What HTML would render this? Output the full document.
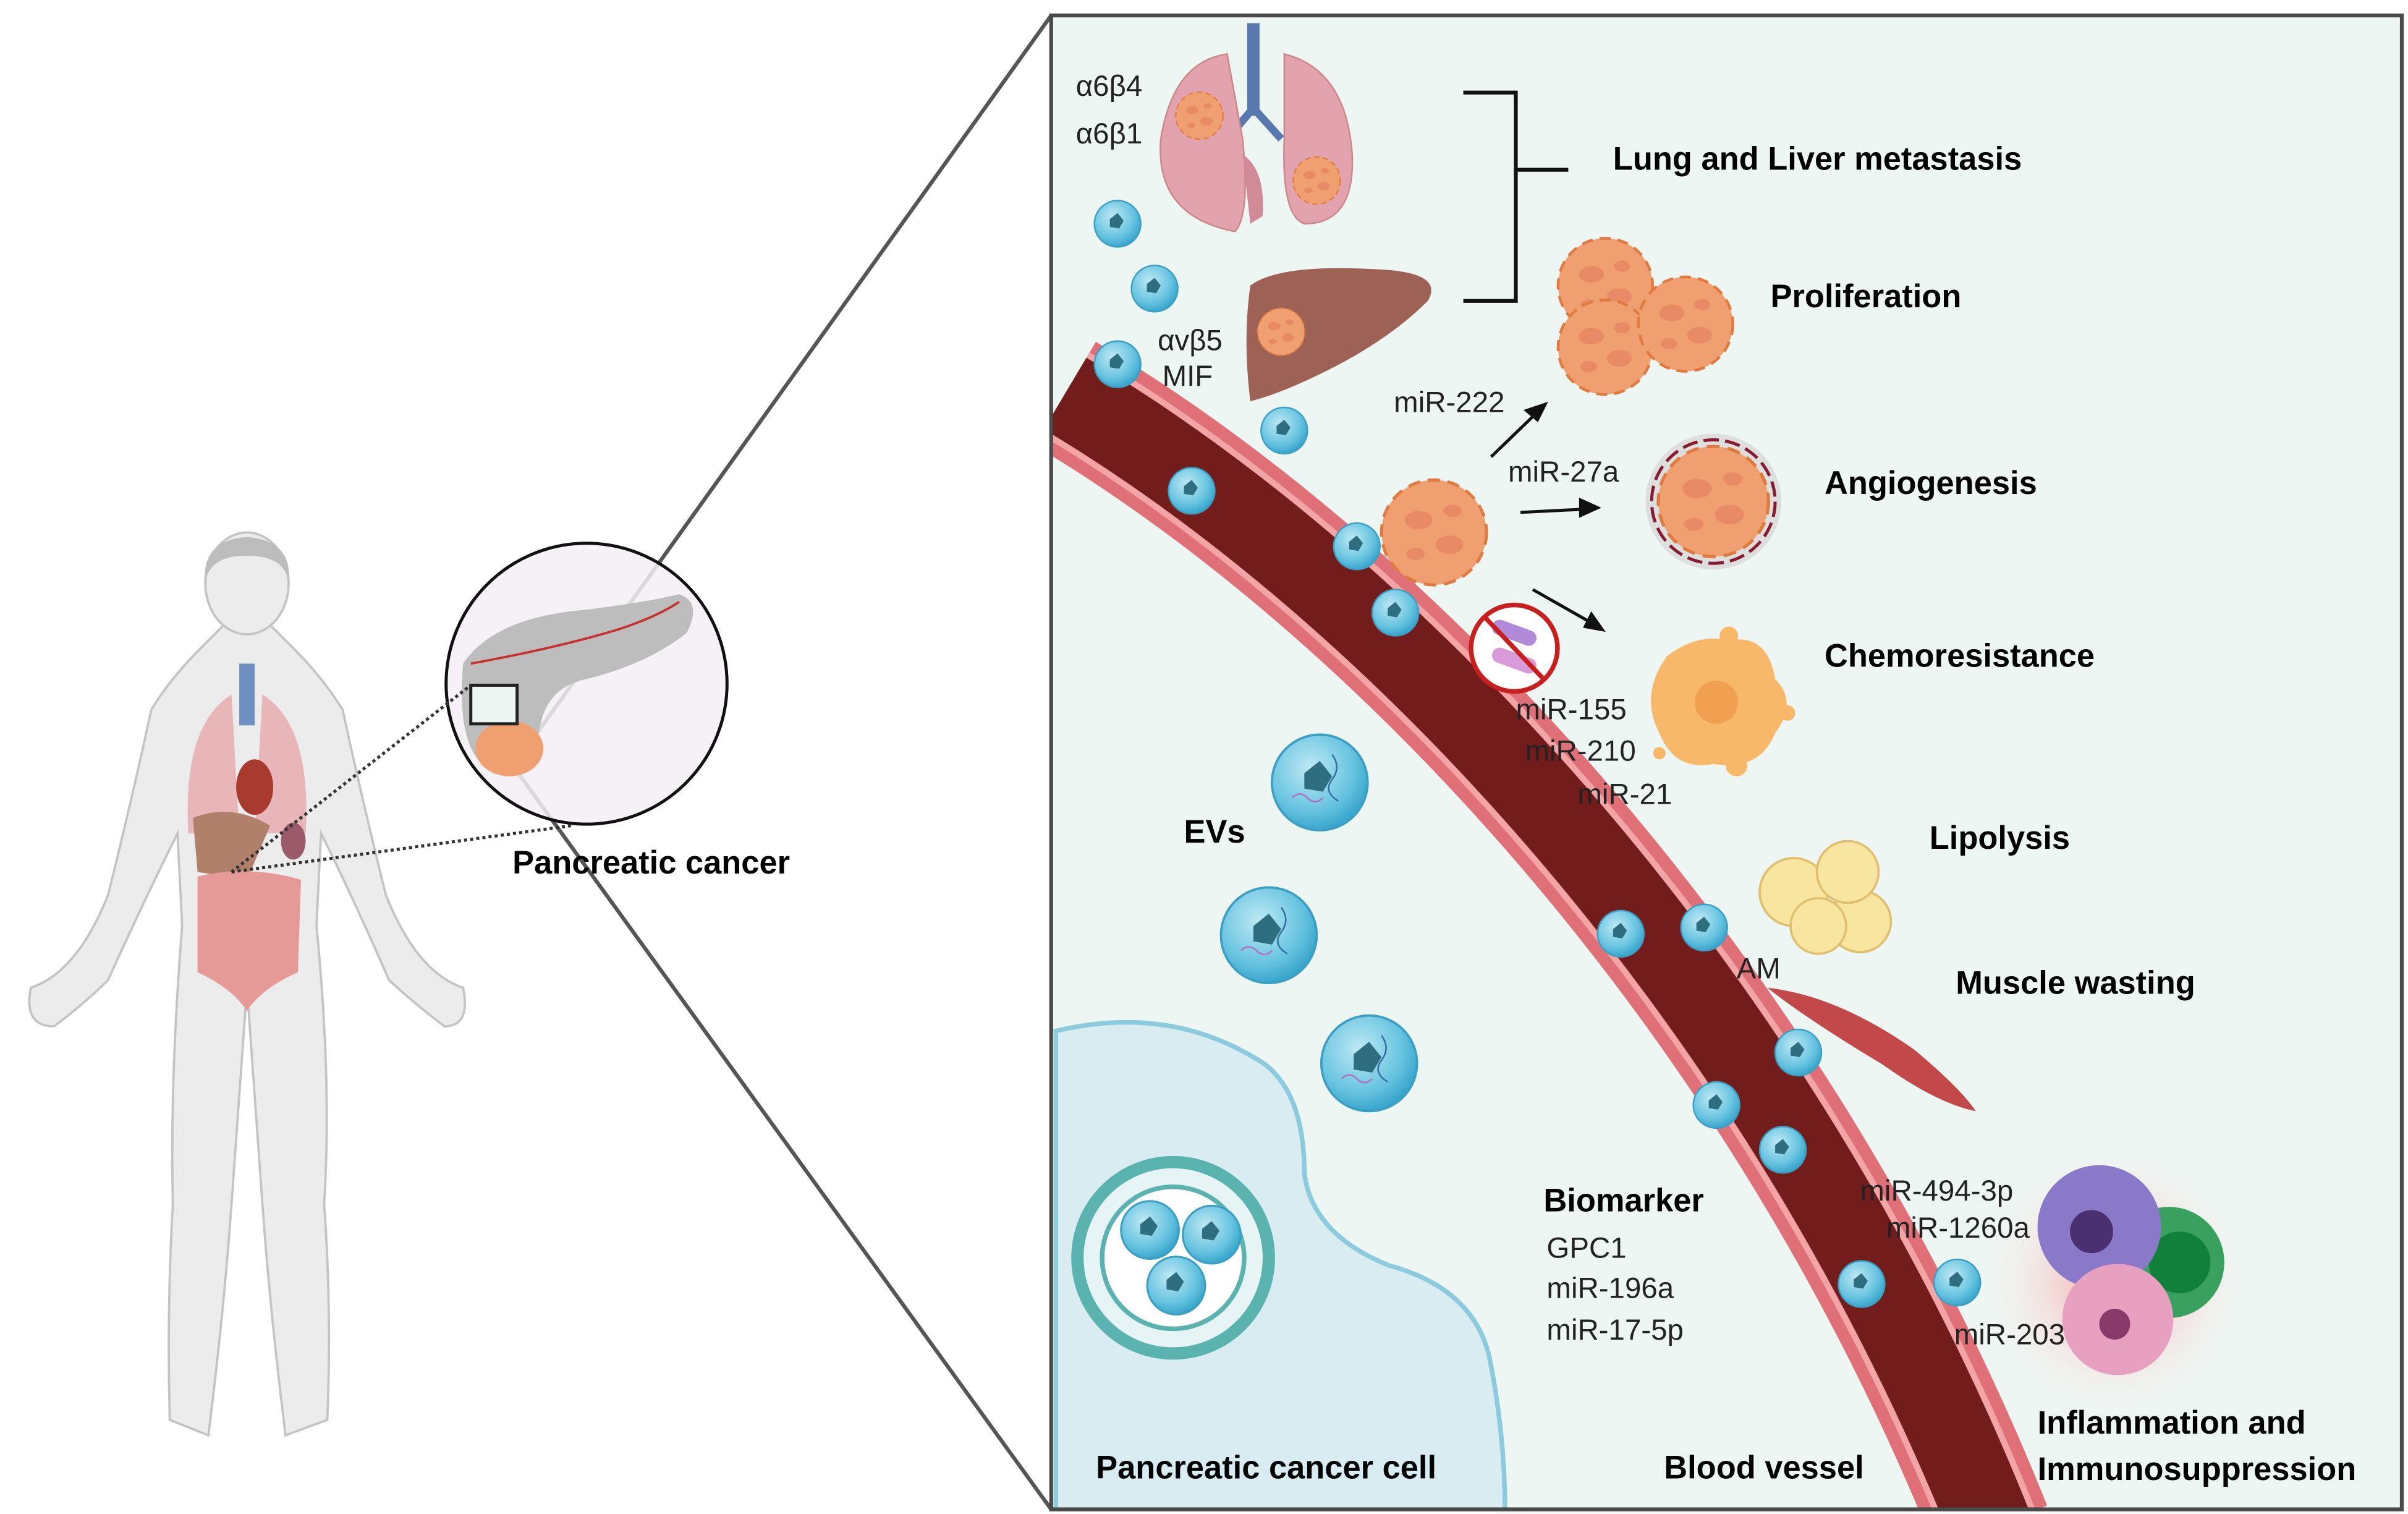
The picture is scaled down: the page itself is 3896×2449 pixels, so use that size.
<!DOCTYPE html>
<html><head><meta charset="utf-8"><style>
html,body{margin:0;padding:0;background:#fff;}
svg{display:block;}
text{font-family:"Liberation Sans",sans-serif;}
.b{font-weight:bold;font-size:21px;fill:#000;}
.n{font-size:19px;fill:#222;}
</style></head><body>
<svg width="3896" height="2449" viewBox="0 0 1560 981" preserveAspectRatio="none" xmlns="http://www.w3.org/2000/svg">
<defs>
<clipPath id="pc"><rect x="681" y="10" width="875" height="968"/></clipPath>
<radialGradient id="ev" cx="40%" cy="35%" r="65%"><stop offset="0" stop-color="#bfe9f5"/><stop offset="0.7" stop-color="#66c3e0"/><stop offset="1" stop-color="#3aa6cc"/></radialGradient>
<radialGradient id="glow" cx="50%" cy="50%" r="50%"><stop offset="0" stop-color="#f4a0a0"/><stop offset="1" stop-color="#fbeaea" stop-opacity="0"/></radialGradient>
<g id="e"><circle r="15" fill="url(#ev)" stroke="#3b9fc4" stroke-width="1"/><path d="M-5 -3 l5 -4 l4 5 l-3 5 l-6 -1z" fill="#2f6e80"/></g>
<g id="E"><circle r="31" fill="url(#ev)" stroke="#3b9fc4" stroke-width="1.5"/><path d="M-10 -6 l10 -8 l8 10 l-6 10 l-12 -2z" fill="#2f6e80"/><path d="M-18 10 q5 -5 10 0 t10 0" stroke="#b070c0" fill="none"/><path d="M8 -18 q6 8 0 16 t4 14" stroke="#3070a0" fill="none"/></g>
<g id="t"><circle r="34" fill="#f0a070"/><circle r="34" fill="none" stroke="#e07a40" stroke-width="2" stroke-dasharray="8 5"/><ellipse cx="-10" cy="-8" rx="9" ry="6" fill="#e88a66"/><ellipse cx="10" cy="8" rx="9" ry="6" fill="#e88a66"/><ellipse cx="12" cy="-14" rx="6" ry="4" fill="#e88a66"/><ellipse cx="-12" cy="14" rx="6" ry="4" fill="#e88a66"/></g>
</defs>
<rect width="1560" height="981" fill="#fff"/>
<g fill="#ececec" stroke="#c4c4c4" stroke-width="1.5">
<path d="M130 420 Q110 440 98 460 Q85 520 70 580 Q50 630 20 640 Q15 665 35 665 Q55 650 70 635 Q95 580 115 540 L118 600 Q110 700 112 780 Q108 850 110 920 L135 930 Q145 850 150 780 L160 640 L170 780 Q175 850 185 930 L212 920 Q215 850 210 780 Q215 700 205 600 L208 540 Q228 580 252 635 Q268 650 288 665 Q305 665 300 640 Q270 630 250 580 Q235 520 222 460 Q210 440 190 420 Q180 410 175 405 L170 395 L150 395 L145 405 Q140 410 130 420Z"/>
<ellipse cx="160" cy="378" rx="27" ry="33"/>
</g>
<path d="M133 378 Q130 350 160 348 Q190 350 187 378 Q185 360 160 360 Q135 360 133 378Z" fill="#bdbdbd"/>
<rect x="155" y="430" width="10" height="40" fill="#6f8fc0"/>
<path d="M150 450 Q118 470 122 540 L155 540Z M170 450 Q202 470 198 540 L165 540Z" fill="#e8b6b8"/>
<ellipse cx="165" cy="510" rx="12" ry="18" fill="#a83a30"/>
<path d="M125 530 Q150 520 175 535 L160 570 L128 565Z" fill="#b0806a"/>
<ellipse cx="190" cy="545" rx="8" ry="12" fill="#9a5a6a"/>
<path d="M128 568 Q160 560 195 570 L193 630 Q170 640 160 655 Q150 640 128 630Z" fill="#e59a98"/>
<line x1="681" y1="10" x2="330" y2="500" stroke="#555" stroke-width="2.5"/>
<line x1="681" y1="978" x2="335" y2="500" stroke="#555" stroke-width="2.5"/>
<circle cx="380" cy="443" r="91" fill="#f4eff6" fill-opacity="0.85" stroke="#111" stroke-width="2"/>
<path d="M300 430 Q320 400 380 395 Q420 390 440 385 Q455 390 445 410 Q420 430 380 440 Q355 445 350 470 Q345 500 320 500 Q295 490 300 430Z" fill="#bdbdbd"/>
<path d="M305 430 Q360 420 400 408 Q425 400 440 390" stroke="#c83030" stroke-width="1.5" fill="none"/>
<ellipse cx="330" cy="485" rx="22" ry="18" fill="#f0a070"/>
<rect x="305" y="444" width="30" height="25" fill="#eef6f3" stroke="#222" stroke-width="2"/>
<path d="M150 565 L305 444 M150 565 L370 535" stroke="#333" stroke-width="2" stroke-dasharray="2 2" fill="none"/>
<text x="332" y="566" class="b">Pancreatic cancer</text>
<rect x="681" y="10" width="875" height="968" fill="#eef6f3"/>
<g clip-path="url(#pc)">
<path d="M684 668 Q760 650 820 690 Q845 710 845 760 Q850 800 900 820 Q955 835 965 880 Q975 930 975 980 L684 980Z" fill="#d8ecf1" stroke="#8ccade" stroke-width="3"/>
<path d="M690 255 C900 380, 1150 640, 1290 990" stroke="#e07078" stroke-width="78" fill="none"/>
<path d="M690 255 C900 380, 1150 640, 1290 990" stroke="#f2a4a6" stroke-width="62" fill="none"/>
<path d="M690 255 C900 380, 1150 640, 1290 990" stroke="#721c1c" stroke-width="54" fill="none"/>
</g>
<rect x="681" y="10" width="875" height="968" fill="none" stroke="#4a4a4a" stroke-width="2.5"/>
<circle cx="760" cy="815" r="62" fill="#e6f4f5" stroke="#5bb3b0" stroke-width="8"/>
<circle cx="760" cy="815" r="46" fill="#fff" stroke="#5bb3b0" stroke-width="3"/>
<use href="#e" transform="translate(745 797) scale(1.25)"/>
<use href="#e" transform="translate(785 800) scale(1.25)"/>
<use href="#e" transform="translate(762 833) scale(1.25)"/>
<rect x="808" y="15" width="8" height="60" fill="#5a78b0"/>
<path d="M812 70 L795 90 M812 70 L830 90" stroke="#5a78b0" stroke-width="5"/>
<path d="M795 35 Q760 40 752 90 Q748 140 800 150 Q810 140 805 90Z" fill="#e3a3ae" stroke="#c88" stroke-width="1"/>
<path d="M832 35 Q872 45 876 100 Q878 145 845 145 Q830 140 832 90Z" fill="#e3a3ae" stroke="#c88" stroke-width="1"/>
<path d="M805 100 Q820 110 818 140 L810 145Z" fill="#d08a98"/>
<use href="#t" transform="translate(777 75) scale(0.45)"/>
<use href="#t" transform="translate(853 117) scale(0.45)"/>
<path d="M810 185 Q830 170 900 175 Q935 178 925 195 Q900 220 860 240 Q830 255 810 260 Q805 220 810 185Z" fill="#9e6156"/>
<use href="#t" transform="translate(830 215) scale(0.45)"/>
<text x="697" y="62" class="n">α6β4</text>
<text x="697" y="93" class="n">α6β1</text>
<text x="750" y="227" class="n">αvβ5</text>
<text x="753" y="250" class="n">MIF</text>
<path d="M948 60 L982 60 L982 195 L948 195 M982 110 L1016 110" stroke="#111" stroke-width="2.5" fill="none"/>
<text x="1045" y="110" class="b">Lung and Liver metastasis</text>
<text x="1147" y="199" class="b">Proliferation</text>
<text x="1182" y="320" class="b">Angiogenesis</text>
<text x="1182" y="432" class="b">Chemoresistance</text>
<text x="1250" y="550" class="b">Lipolysis</text>
<text x="1267" y="644" class="b">Muscle wasting</text>
<text x="1000" y="785" class="b">Biomarker</text>
<text x="1320" y="929" class="b">Inflammation and</text>
<text x="1320" y="959" class="b">Immunosuppression</text>
<text x="710" y="958" class="b">Pancreatic cancer cell</text>
<text x="1078" y="958" class="b">Blood vessel</text>
<text x="767" y="546" class="b">EVs</text>
<use href="#t" transform="translate(1040 185) scale(0.9)"/>
<use href="#t" transform="translate(1040 225) scale(0.9)"/>
<use href="#t" transform="translate(1092 210) scale(0.9)"/>
<use href="#t" transform="translate(929 345) scale(1)"/>
<circle cx="1110" cy="325" r="44" fill="#d0d0d0" opacity="0.6"/>
<circle cx="1110" cy="325" r="40" fill="none" stroke="#8a1a30" stroke-width="2" stroke-dasharray="10 4"/>
<use href="#t" transform="translate(1110 325) scale(1.05)"/>
<g stroke="#111" stroke-width="2" fill="#111">
<line x1="966" y1="296" x2="995" y2="268"/><path d="M1001 262 l-12 4 l7 6z"/>
<line x1="985" y1="332" x2="1025" y2="330"/><path d="M1035 329 l-11 -5 l0 10z"/>
<line x1="993" y1="382" x2="1030" y2="403"/><path d="M1038 408 l-7 -10 l-4 8z"/>
</g>
<text x="903" y="267" class="n">miR-222</text>
<text x="977" y="312" class="n">miR-27a</text>
<circle cx="981" cy="420" r="28" fill="#fff" stroke="#c81e1e" stroke-width="3"/>
<rect x="966" y="405" width="30" height="10" rx="5" fill="#b08ad8" transform="rotate(20 981 410)"/>
<rect x="966" y="423" width="30" height="10" rx="5" fill="#d89ad8" transform="rotate(20 981 428)"/>
<line x1="962" y1="400" x2="1000" y2="440" stroke="#c81e1e" stroke-width="3"/>
<text x="982" y="466" class="n">miR-155</text>
<text x="988" y="493" class="n">miR-210</text>
<text x="1022" y="521" class="n">miR-21</text>
<path d="M1080 425 Q1100 410 1120 415 Q1145 410 1150 440 Q1165 455 1150 475 Q1140 500 1110 495 Q1085 500 1075 475 Q1062 450 1080 425Z" fill="#f8b86a"/>
<circle cx="1112" cy="455" r="14" fill="#f0a050"/>
<circle cx="1120" cy="412" r="6" fill="#f8b86a"/><circle cx="1158" cy="462" r="5" fill="#f8b86a"/><circle cx="1125" cy="496" r="7" fill="#f8b86a"/><circle cx="1075" cy="488" r="4" fill="#f8b86a"/>
<g fill="#f8e6a0" stroke="#e0c070" stroke-width="1.5">
<circle cx="1162" cy="578" r="22"/><circle cx="1205" cy="597" r="20"/><circle cx="1197" cy="565" r="20"/><circle cx="1178" cy="600" r="18"/>
</g>
<text x="1125" y="634" class="n">AM</text>
<path d="M1145 640 Q1190 645 1240 680 Q1270 705 1280 720 Q1255 715 1220 690 Q1170 660 1145 640Z" fill="#c2484a"/>
<circle cx="1370" cy="830" r="85" fill="url(#glow)"/>
<circle cx="1405" cy="818" r="36" fill="#3aa060"/><circle cx="1412" cy="818" r="20" fill="#10803a"/>
<circle cx="1360" cy="795" r="40" fill="#8a78c8"/><circle cx="1355" cy="798" r="14" fill="#4a3070"/>
<circle cx="1372" cy="855" r="36" fill="#e8a0c0"/><circle cx="1370" cy="858" r="10" fill="#8a3a6a"/>
<text x="1205" y="778" class="n">miR-494-3p</text>
<text x="1222" y="802" class="n">miR-1260a</text>
<text x="1266" y="871" class="n">miR-203</text>
<text x="1002" y="815" class="n">GPC1</text>
<text x="1002" y="841" class="n">miR-196a</text>
<text x="1002" y="868" class="n">miR-17-5p</text>
<use href="#e" x="724" y="145"/><use href="#e" x="748" y="187"/><use href="#e" x="724" y="236"/>
<use href="#e" x="832" y="279"/><use href="#e" x="772" y="318"/><use href="#e" x="879" y="354"/>
<use href="#e" x="904" y="397"/><use href="#e" x="1050" y="605"/><use href="#e" x="1104" y="601"/>
<use href="#e" x="1165" y="682"/><use href="#e" x="1112" y="716"/><use href="#e" x="1155" y="745"/>
<use href="#e" x="1206" y="832"/><use href="#e" x="1268" y="831"/>
<use href="#E" x="855" y="507"/><use href="#E" x="822" y="606"/><use href="#E" x="887" y="689"/>
</svg>
</body></html>
